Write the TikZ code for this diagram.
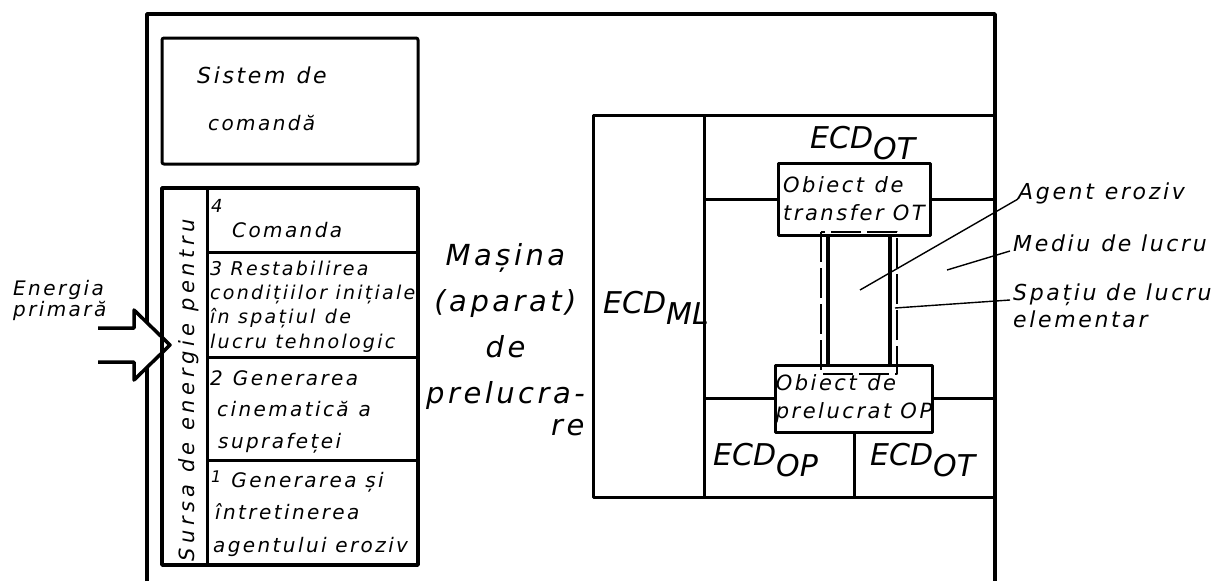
\documentclass[tikz,border=0pt]{standalone}
\usepackage{fontspec}
\setmainfont{DejaVu Sans}[LetterSpace=12]
\newfontfamily\ecdfont{DejaVu Sans}
\newfontfamily\widefont{DejaVu Sans}[LetterSpace=22]
\usetikzlibrary{positioning}
\newcommand\fsz[2]{\fontsize{#1}{#2}\selectfont\itshape}
\newcommand\ecd[1]{ECD\raisebox{-11pt}{#1}}

\begin{document}
\begin{tikzpicture}[x=1pt,y=-1pt,line join=round,
    frame/.style={line width=3.5pt},
    grid/.style={line width=3pt},
    thin/.style={line width=1.4pt},
    txt/.style={inner sep=0pt,anchor=base west,align=left},
    ecdlbl/.style={txt,font=\ecdfont\fsz{30}{30}},
    obj/.style={draw,line width=3pt,fill=white,inner sep=0pt,align=left,font=\fsz{21}{28}}]
  \fill[white] (0,0) rectangle (1230,581);
  \useasboundingbox (0,0) rectangle (1230,581);

  \draw[frame] (147,581) -- (147,14) -- (995,14) -- (995,581);

  \draw[grid,rounded corners=2pt] (162,38) rectangle (418,164);
  \node[txt,font=\fsz{22}{22}] (sist) at (197,83) {Sistem\enskip de};
  \node[txt,font=\fsz{20}{20}] (cmd) at (208,130) {comandă};

  \node[txt,font=\fsz{20}{21}] (energ) at (13,316) {Energia\\primară};
  \draw[frame,fill=white] (98,328) -- (134,328) -- (134,310) -- (170,345) -- (134,380) -- (134,362) -- (98,362);

  \draw[frame] (162,188) rectangle (418,565);
  \draw[grid] (207,188) -- (207,565);
  \foreach \y in {252,357,460}
    \draw[grid] (207,\y) -- (418,\y);
  \node[txt,rotate=90,font=\widefont\fsz{21}{21}] (sursa) at (194,562) {Sursa de energie pentru};

  \node[txt,font=\fsz{18}{18}] (n4) at (211,212) {4};
  \node[txt,font=\fsz{20}{20}] (r4) at (232,237) {Comanda};
  \node[txt,font=\fsz{19}{24.3}] (r3) at (210,348) {3 Restabilirea\\condițiilor inițiale\\în spațiul\enskip de\\lucru tehnologic};
  \node[txt,font=\fsz{20}{31.5}] (r2) at (210,448) {2\enskip Generarea\\\hspace{7pt}cinematică\enskip a\\\hspace{8pt}suprafeței};
  \node[txt,font=\fsz{20}{32.5}] (r1) at (211,552) {\raisebox{5pt}{\fsz{16}{16}1}\enskip Generarea și\\\hspace{4pt}întretinerea\\\hspace{2pt}agentului eroziv};

  \node[txt,align=center,font=\fsz{29}{46}] (masina) at (426,403) {Mașina\\(aparat)\\de\\prelucra-};
  \node[txt,font=\fsz{29}{29}] (re) at (551,435) {re};

  \draw[grid] (593,115) rectangle (995,497);
  \draw[grid] (704,115) -- (704,497);
  \node[obj,minimum width=152pt,minimum height=72pt] (ot) at (854,199) {Obiect\enskip de\\transfer OT};
  \node[obj,minimum width=148pt,minimum height=67pt] (op) at (854,398.5) {Obiect\enskip de\\prelucrat OP};
  \draw[grid] (704,199) -- (ot.west);
  \draw[grid] (ot.east) -- (995,199);
  \draw[grid] (704,398.5) -- (op.west);
  \draw[grid] (op.east) -- (995,398.5);
  \draw[grid] (op.south) -- (854,497);
  \draw[line width=3.5pt] ([xshift=-26pt]ot.south) -- ([xshift=-26pt]op.north);
  \draw[line width=3.5pt] ([xshift=36pt]ot.south) -- ([xshift=36pt]op.north);
  \draw[thin,dash pattern=on 30pt off 6pt] (821,232) rectangle (897,374);

  \node[ecdlbl] (ecdot) at (810,148) {\ecd{OT}};
  \node[ecdlbl] (ecdml) at (603,313) {\ecd{ML}};
  \node[ecdlbl] (ecdop) at (713,465) {\ecd{OP}};
  \node[ecdlbl] (ecdotb) at (870,465) {\ecd{OT}};

  \coordinate (agentpt) at (860,290);
  \coordinate (mediupt) at (947,270);
  \coordinate (spatpt) at (895,308);
  \node[txt,font=\fsz{22}{22}] (agent) at (1018,199) {Agent\enskip eroziv};
  \node[txt,font=\fsz{22}{22}] (mediu) at (1013,251) {Mediu\enskip de lucru};
  \node[txt,font=\fsz{22}{27}] (spatiu) at (1013,327) {Spațiu de lucru\\elementar};
  \draw[thin] (agentpt) -- (agent.base west);
  \draw[thin] (mediupt) -- ([xshift=-3pt]mediu.base west);
  \draw[thin] (spatpt) -- ([xshift=-3pt,yshift=27pt]spatiu.base west);
\end{tikzpicture}
\end{document}
